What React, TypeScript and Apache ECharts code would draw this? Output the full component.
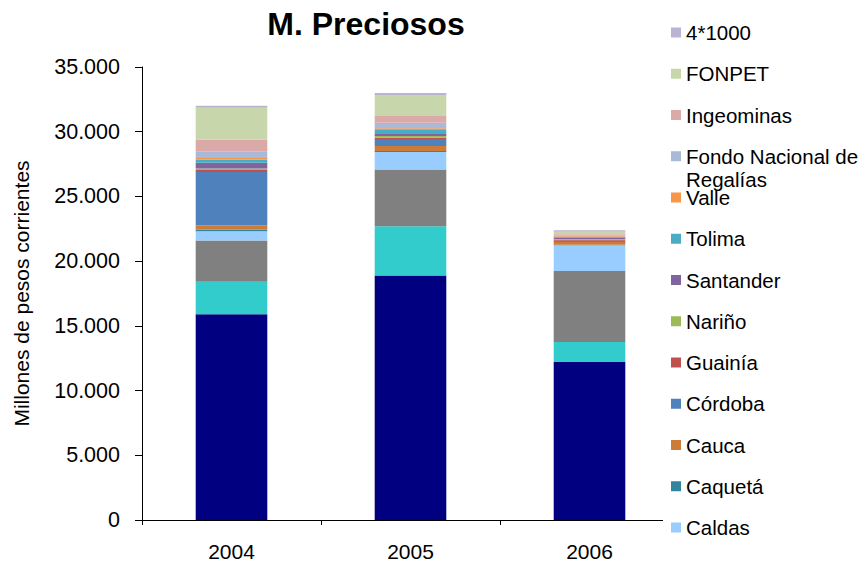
import React, { useEffect, useRef } from "react";
import * as echarts from "echarts";

const categories = ["2004", "2005", "2006"];

const antioquia = [15900, 18900, 12200];
const bolivar = [2500, 3790, 1550];
const choco = [3190, 4400, 5480];
const caldas = [720, 1340, 1990];
const caqueta = [130, 80, 50];
const cauca = [310, 390, 200];
const cordoba = [4130, 540, 100];
const guainia = [155, 100, 100];
const narino = [125, 130, 50];
const santander = [440, 155, 100];
const tolima = [230, 310, 50];
const valle = [130, 130, 50];
const fnr = [490, 430, 50];
const ingeominas = [950, 520, 100];
const fonpet = [2450, 1620, 210];
const cuatroPorMil = [155, 155, 100];

const seriesList: { name: string; data: number[]; color: string }[] = [
  { name: "Antioquia", data: antioquia, color: "#000080" },
  { name: "Bolívar", data: bolivar, color: "#33CCCC" },
  { name: "Chocó", data: choco, color: "#808080" },
  { name: "Caldas", data: caldas, color: "#99CCFF" },
  { name: "Caquetá", data: caqueta, color: "#31859C" },
  { name: "Cauca", data: cauca, color: "#CD7B38" },
  { name: "Córdoba", data: cordoba, color: "#4F81BD" },
  { name: "Guainía", data: guainia, color: "#C0504D" },
  { name: "Nariño", data: narino, color: "#9BBB59" },
  { name: "Santander", data: santander, color: "#8064A2" },
  { name: "Tolima", data: tolima, color: "#4BACC6" },
  { name: "Valle", data: valle, color: "#F79646" },
  { name: "Fondo Nacional de Regalías", data: fnr, color: "#AAB9D8" },
  { name: "Ingeominas", data: ingeominas, color: "#DAA9A8" },
  { name: "FONPET", data: fonpet, color: "#C8D7AB" },
  { name: "4*1000", data: cuatroPorMil, color: "#BBB3D1" },
];

const legendNames = seriesList.slice(3).map((s) => s.name).reverse();

const FONT = "'Liberation Sans', Arial, sans-serif";

export default function App() {
  const ref = useRef<HTMLDivElement>(null);
  useEffect(() => {
    document.body.style.margin = "0";
    if (!ref.current) return;
    const chart = echarts.init(ref.current, null, { renderer: "svg" });
    chart.setOption({
      animation: false,
      backgroundColor: "#ffffff",
      textStyle: { fontFamily: FONT },
      title: {
        text: "M. Preciosos",
        left: 361,
        textAlign: "center",
        top: 3,
        textStyle: { fontSize: 32, fontWeight: "bold", color: "#000", fontFamily: FONT },
      },
      grid: { left: 142, right: 188, top: 67, bottom: 47 },
      legend: {
        orient: "vertical",
        left: 663,
        top: 22,
        padding: [0, 4, 0, 8],
        backgroundColor: "#ffffff",
        data: legendNames,
        selectedMode: false,
        itemWidth: 10,
        itemHeight: 10,
        itemGap: 20.25,
        icon: "rect",
        formatter: (name: string) =>
          name === "Fondo Nacional de Regalías" ? "Fondo Nacional de" : name,
        textStyle: { fontSize: 20.5, lineHeight: 20, color: "#000", fontFamily: FONT },
      },
      graphic: [
        {
          type: "text",
          left: 686,
          top: 169,
          z: 100,
          style: { text: "Regalías", fontSize: 20.5, fill: "#000", fontFamily: FONT },
        },
      ],
      xAxis: {
        type: "category",
        data: categories,
        axisLine: { lineStyle: { color: "#000", width: 1 } },
        axisTick: { show: true, length: 5, lineStyle: { color: "#000" } },
        axisLabel: { fontSize: 21, color: "#000", margin: 21, fontFamily: FONT },
      },
      yAxis: {
        type: "value",
        min: 0,
        max: 35000,
        interval: 5000,
        name: "Millones de pesos corrientes",
        nameLocation: "middle",
        nameGap: 110,
        nameRotate: 90,
        nameTextStyle: { fontSize: 21, color: "#000", fontFamily: FONT },
        splitLine: { show: false },
        axisLine: { show: true, lineStyle: { color: "#000", width: 1 } },
        axisTick: { show: true, length: 7, lineStyle: { color: "#000" } },
        axisLabel: {
          fontSize: 21.5,
          color: "#000",
          margin: 22,
          fontFamily: FONT,
          formatter: (v: number) => v.toString().replace(/\B(?=(\d{3})+(?!\d))/g, "."),
        },
      },
      series: seriesList.map((s) => ({
        name: s.name,
        type: "bar",
        stack: "total",
        barWidth: "40%",
        data: s.data,
        itemStyle: { color: s.color },
      })),
    });
    return () => chart.dispose();
  }, []);
  return <div ref={ref} style={{ width: 867, height: 567 }} />;
}
